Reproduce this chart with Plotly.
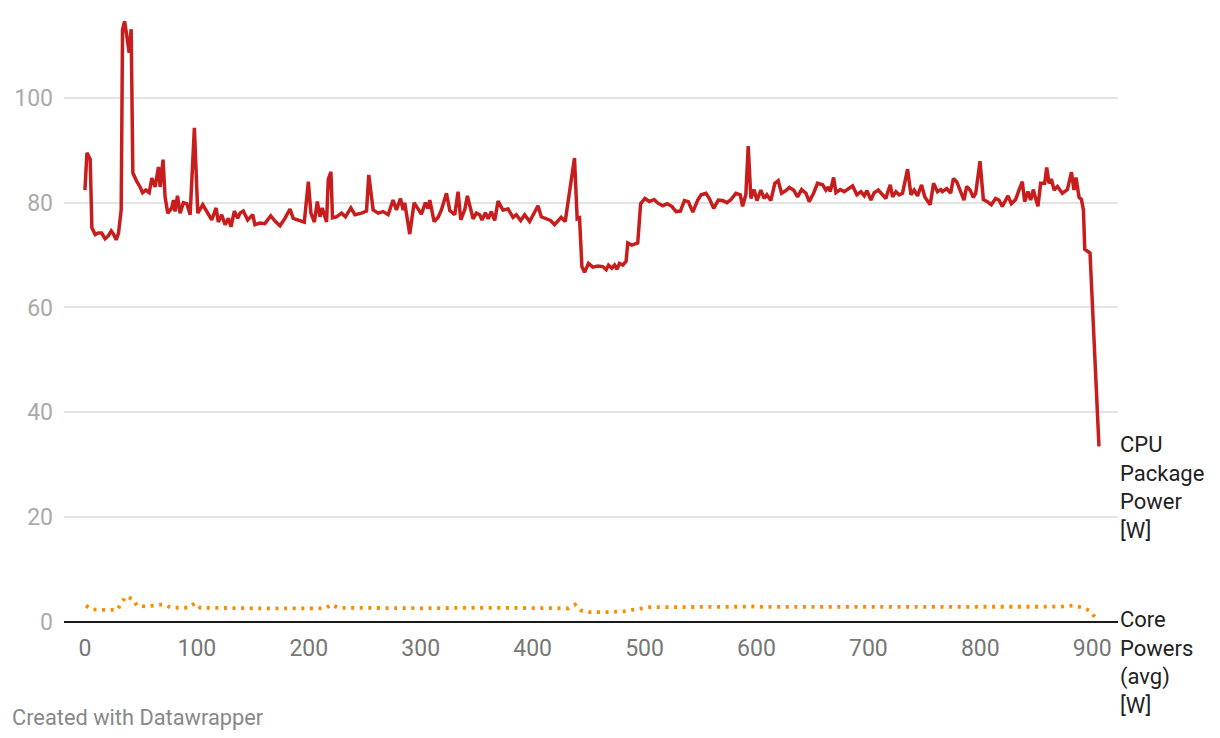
import plotly.graph_objects as go

# ---- data ----
cpu_x = [0, 1.8, 4.7, 6.2, 9.2, 12, 15, 18, 21, 23.5, 25.5, 27.9, 30, 32.4, 33.6, 35.4, 37.5, 39.5, 41.3, 42.8,
         46.4, 49.3, 51.5, 54.4, 57.4, 59.8, 62.7, 65.7, 67.2, 69.8, 71.6, 74, 77.6, 79.1, 80.5, 82.7, 85, 88, 91, 94,
         97.8, 100.8, 105.3, 108.8, 113.3, 117.2, 119.2, 122.2, 125.2, 128.2, 130.5, 133.5, 136.5, 138.5, 141.5,
         145.4, 149.9, 151.9, 156.4, 160.8, 166, 169.8, 174.3, 178.7, 183.2, 186.1, 190.6, 196, 199.6, 201.9, 205,
         207.6, 210, 212, 215.9, 217.4, 219.8, 221.2, 224.8, 229.3, 232.8, 237.6, 241.2, 247.1, 251.6, 253.6,
         257.5, 262, 266.4, 270.9, 275.3, 278.3, 281.9, 284.3, 285.7, 288.8, 290.2, 294.1, 297.7, 300.6, 304.2,
         306.6, 308.1, 312, 315.6, 318.5, 323, 326, 330.4, 333.4, 335.8, 339.3, 341.7, 346.8, 349.7, 352.7, 354.8,
         357.8, 360.2, 363.1, 366.1, 369.1, 373.5, 378, 382.5, 385.4, 389.3, 392.9, 397.3, 401.2, 404.8, 407.7,
         412.2, 416, 419.6, 422.6, 425.5, 429.1, 433, 437.4, 439.8, 441.9, 444, 446.4, 449.9, 453.8, 458.3, 462.7,
         465.7, 467.8, 470.8, 473.2, 475.5, 477.6, 480.6, 483.5, 485, 488.6, 493.9, 496.5, 500.4, 504.3, 508.5,
         512, 516.3, 520.1, 524.3, 528.2, 532, 535.6, 539.1, 543.1, 547.5, 550.5, 554.9, 557.9, 561.8, 565.9,
         569.8, 573.6, 577.2, 581.6, 585.5, 587.6, 590.5, 592.6, 595, 597.9, 600.4, 603.9, 606.9, 609.3, 612.8,
         616.4, 619.4, 622.4, 626.3, 629.3, 633.2, 636.7, 640.3, 644.2, 647.1, 651, 654.6, 659.1, 662, 664.1,
         665.9, 668.9, 671, 674.8, 678.4, 682, 685.9, 689.7, 693.3, 696.3, 698.7, 702.2, 705.2, 708.8, 711.8,
         715.6, 717.1, 719.5, 721.6, 724.6, 727.5, 730.5, 735, 738, 740.9, 743.9, 747.5, 750.4, 755.2, 758.2,
         761.7, 764.7, 766.1, 770, 773.5, 775.9, 778.9, 781.9, 785.4, 787.8, 790.8, 793.8, 795.9, 799.7, 802.7,
         806.3, 809.8, 813.6, 816.6, 819.6, 822.6, 824.7, 827.7, 831.5, 834.5, 837.5, 839.6, 842.5, 845, 847.3,
         849.4, 851.5, 853.9, 857.5, 859.3, 861.4, 863.5, 865.9, 868.9, 873.3, 877.8, 881.4, 883.7, 885.5, 888.2,
         890.3, 892.1, 893.3, 898, 902, 906]
cpu_y = [82.4, 89.5, 88.3, 75.2, 73.9, 74.2, 74.2, 73.1, 73.7, 74.6, 74, 72.9, 74.2, 78.6, 113, 114.6, 111.7, 108.6,
         113.1, 85.7, 84, 83, 81.9, 82.4, 81.9, 84.7, 83, 86.8, 83, 88.2, 81.1, 78, 79, 80.5, 78.3, 81.3, 78, 80,
         79.8, 77.7, 94.3, 78, 79.6, 78.3, 76.7, 79, 76.3, 77.7, 75.8, 77, 75.4, 78.4, 77, 78, 78.4, 76.7, 77.7,
         75.8, 76.1, 76, 77.5, 76.5, 75.6, 77, 78.8, 77, 76.7, 76.3, 84, 78, 76.3, 80.2, 77.3, 79, 76.3, 84.4,
         85.9, 77.1, 77.3, 78, 77.3, 79, 77.7, 78, 78.4, 85.3,
         78.6, 78, 78.3, 77.7, 80.5, 78.6, 80.8, 78.6, 80, 75.1, 74, 80, 78.6, 77.8, 80, 78.9, 80.5, 76.4, 77.2,
         78.6, 81.8, 78.5, 77.7, 82.1, 76.7, 78.6, 81.3, 76.9, 78, 77.7, 76.7, 78.1, 76.9, 78.3, 76.6, 80.3, 78.6,
         78.8, 77.2, 77.7, 76.6, 77.7, 76.4, 78, 79.4, 77.3, 76.9, 76.6, 75.8, 76.4, 77.2, 76.4, 82.4, 88.5, 76.9,
         77.1, 67.8, 66.7, 68.4, 67.7, 67.9, 67.8, 67.2, 68.1, 67.5, 68.1, 67.3, 68.4, 68.1, 68.8, 72.3, 71.9,
         72.3, 79.8, 80.8, 80.2, 80.6, 79.9, 79.4, 79.8, 79.3, 78.3, 78.4, 80.4, 80.2, 78.2, 80.5, 81.5, 81.8,
         80.8, 78.9, 80.5, 80.4, 80, 80.6, 81.8, 81.5, 79.3, 81.5, 90.8, 80.8, 82.5, 80.4, 82.4, 80.8, 81.5, 80.4,
         83.7, 84.2, 81.8, 82.3, 82.9, 82.4, 81.1, 82.5, 81.8, 80.2, 81.8, 83.7, 83.4, 82.4, 83, 82.1, 84.8, 81.9,
         82.5, 82.1, 82.7, 83.2, 81.5, 82.1, 81.3, 82.3, 80.5, 81.9, 82.4, 81.7, 80.8, 81.9, 83.4, 81.1, 82.1,
         81.5, 81.8, 86.4, 81.5, 82.4, 81.3, 83.4, 81.1, 79.6, 83.7, 82.1, 82.5, 82.1, 82.7, 81.8, 84.6, 84, 82.4,
         80.5, 83.1, 82.4, 81, 81.8, 87.9, 80.6, 80.2, 79.6, 80.8, 80.5, 79.3, 80.6, 81.3, 79.8, 80.6, 82.4, 84,
         80.2, 82.1, 80.5, 82.5, 80.8, 79.3, 83.7, 83.7, 86.7, 83.7, 84.5, 82.4, 83.1, 81.8, 82.5, 85.8, 82.4,
         84.8, 81, 80.6, 78.6, 71.1, 70.4, 52, 33.5]

core_x = [0.9, 6, 14, 21.5, 29, 33, 37, 43, 46.5, 54.5, 62.5, 70, 77, 92.3, 98.5, 103, 150, 215, 220, 226, 300,
          350, 432, 438, 443, 451, 466, 481.5, 489, 496, 504.6, 590, 595, 600, 700, 800, 870, 882.7, 890.4,
          897.2, 902.8]
core_y = [3.1, 2.4, 2.3, 2.3, 2.3, 3.75, 4.9, 4.3, 3.1, 2.95, 3.1, 3.35, 2.7, 2.7, 3.6, 2.7, 2.6, 2.6, 3.3, 2.7,
          2.6, 2.7, 2.6, 3.3, 2.2, 1.85, 1.85, 2.0, 2.3, 2.6, 2.8, 2.9, 3.0, 2.85, 2.85, 2.85, 2.9, 3.1, 2.8, 2.2,
          0.85]

x_ticks = [0, 100, 200, 300, 400, 500, 600, 700, 800, 900]
y_ticks = [0, 20, 40, 60, 80, 100]

cpu_name = "CPU<br>Package<br>Power<br>[W]"
core_name = "Core<br>Powers<br>(avg)<br>[W]"

RED = "#c71e1d"
ORANGE = "#fa8c00"
FONT = "Roboto"

fig = go.Figure()
fig.add_trace(go.Scatter(x=core_x, y=core_y, mode="lines",
                         line=dict(color=ORANGE, width=3.8, dash="3px,5.6px"),
                         hoverinfo="skip", showlegend=False))
fig.add_trace(go.Scatter(x=cpu_x, y=cpu_y, mode="lines",
                         line=dict(color=RED, width=3.5),
                         hoverinfo="skip", showlegend=False))

# the page body adds an 8px offset, so the figure is laid out 8px up/left
fig.update_layout(
    width=1212, height=730,
    margin=dict(l=54, r=102, t=6, b=114),
    paper_bgcolor="white", plot_bgcolor="white",
    font=dict(family=FONT),
    showlegend=False,
)
fig.update_xaxes(range=[-18.7, 923], tickvals=x_ticks, ticktext=[str(v) for v in x_ticks],
                 showgrid=False, zeroline=False, showline=False, ticks="",
                 tickfont=dict(family=FONT, size=23, color="#777777"),
                 ticklabelstandoff=8)
fig.update_yaxes(range=[-0.4, 116], tickvals=y_ticks, ticktext=[str(v) for v in y_ticks],
                 showgrid=True, gridcolor="#e3e3e3", gridwidth=1.5,
                 zeroline=True, zerolinecolor="#1a1a1a", zerolinewidth=2,
                 showline=False, ticks="",
                 tickfont=dict(family=FONT, size=23, color="#aaaaaa"),
                 ticklabelstandoff=10)

fig.add_annotation(text=cpu_name, xref="paper", x=1, xanchor="left", yref="y", y=cpu_y[-1],
                   yanchor="top", yshift=16, showarrow=False, align="left",
                   font=dict(family=FONT, size=22, color="#222222"))
fig.add_annotation(text=core_name, xref="paper", x=1, xanchor="left", yref="y", y=core_y[-1],
                   yanchor="top", yshift=12, showarrow=False, align="left",
                   font=dict(family=FONT, size=22, color="#222222"))
fig.add_annotation(text="Created with Datawrapper", xref="paper", x=-0.0508, xanchor="left",
                   yref="paper", y=-0.153, yanchor="middle", showarrow=False,
                   font=dict(family=FONT, size=21.8, color="#888888"))

fig.write_html("out.html")
